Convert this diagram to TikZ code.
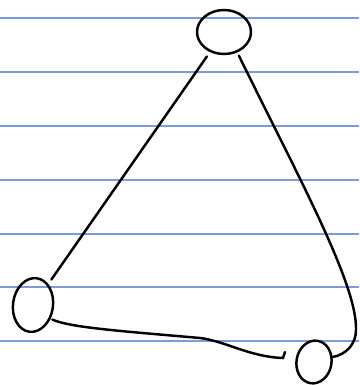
\documentclass[tikz,border=0pt]{standalone}
\usepackage{xcolor}
\usepackage{tikz}
\usetikzlibrary{shapes.geometric}

\definecolor{ruled}{RGB}{125,155,215}

\begin{document}
\begin{tikzpicture}[
        paperline/.style={ruled, line width=0.7pt},
        ink/.style={black, line width=1.4pt, line cap=round},
        blob/.style={ink, draw, ellipse, inner sep=0pt}
    ]
        \useasboundingbox[fill=white] (0, 0) rectangle (7.18, 7.7);

        % ruled lines of the paper
        \foreach \y in {0.88, 1.96, 3.02, 4.10, 5.18, 6.26, 7.34}
            \draw[paperline] (0, \y) -- (7.18, \y);

        \node[blob, minimum width=1.08cm, minimum height=0.88cm] (top) at (4.48, 7.06) {};
        \node[blob, minimum width=0.80cm, minimum height=1.08cm, rotate=-8] (left) at (0.66, 1.60) {};
        \node[blob, minimum width=0.70cm, minimum height=0.86cm, rotate=-10] (right) at (6.28, 0.46) {};

        \draw[ink, shorten <=3pt, shorten >=3pt] (left.62) -- (top.235);

        \draw[ink, shorten <=2pt] (top.303) .. controls (6.0, 4.1) and (7.15, 2.0) .. (7.12, 1.1)
            to[out=-90, in=10] (right.25);

        \coordinate (tip) at (5.66, 0.54);
        \draw[ink, shorten <=1pt] (left.330) .. controls (1.4, 1.15) and (2.4, 1.08) .. (4.0, 0.94)
            .. controls (4.5, 0.88) and (5.0, 0.56) .. (tip) -- ++(0.04, 0.12);

    \end{tikzpicture}
\end{document}
